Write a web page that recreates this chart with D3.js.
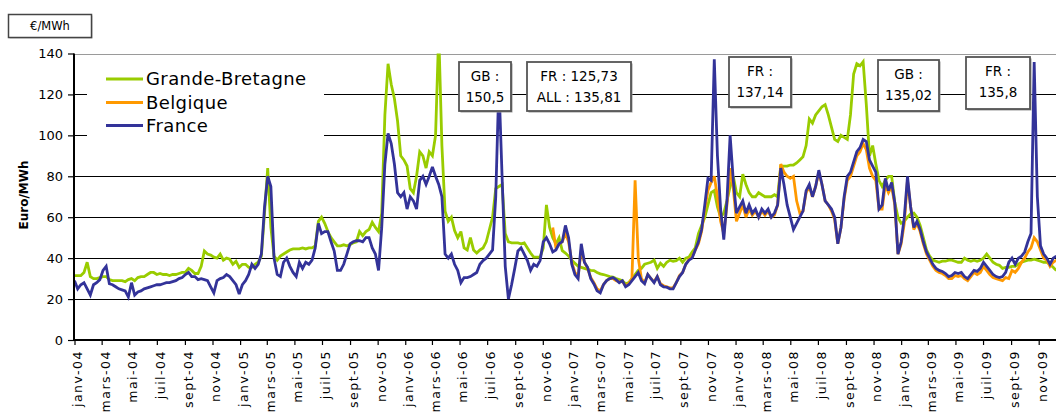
<!DOCTYPE html>
<html><head><meta charset="utf-8">
<script src="https://cdn.jsdelivr.net/npm/d3@7"></script>
<style>
body{margin:0;background:#fff}
svg{display:block}
text{font-family:"DejaVu Sans",Verdana,sans-serif;fill:#000}
</style>
</head><body>
<svg id="c" width="1056" height="419"></svg>
<script>
// ---------- DATA (weekly readings, week 0 = 1 Jan 2004) ----------
const firstWeek = new Date(2004, 0, 1);
const gb = [
31.5,31.5,31.5,33,38,31,30,30,30.5,31,
31,29.5,29,29,29,29,28.5,29.5,30,29,
30.5,31,31,32,33,33,32,32.5,32,32,
31.5,32,32,32.5,33,33,35,34,32.5,32.5,
36,43.5,42,41.5,40.5,40,42,39,40,39.5,
37,38.5,35.5,37,37,35.5,35.5,37,38,41,
62,84,55,41,39,41,42,43,44,44.5,
44.5,44.5,45,44.5,45,45,46,58,60,57,
53,50,48,46,46,46.5,46,46.5,47.5,48,
53,51,53,54,57.5,55,53,62,110,135,
125,118,107,90,88,85,74,72,80,92,
90,84,92,90,100,150.5,95,63,58,60,
53.5,50,53,45,44,50,44,42.5,44,45,
48,54,60,74,75,76,52,48,47.5,47.5,
47.5,47,47.5,45,42.5,40.5,40.5,40.5,45,66,
55,50,47,50,43.7,42.5,41,39,37.5,36,
35.5,35,34.5,34,33.9,33,32.3,32,31.5,31,
30.7,30,29.5,29,27.5,28,30,32,34,35,
37,37.5,38,39,35,37.5,36,38,39,38.5,
38.8,40,38,40,40.5,43,45,52,56,60,
66,72,73,65,60,62,68,75,80,72,
70,81,76,72,70,70,72,71,70,70,
70,71,70,85,85,85,85.5,85.5,86.5,88,
89.5,95,108,106,110,112,114,115,110,104,
98,97,100,99,98,110,130,135,134,136,
115,90,95,86,78,75,78,80,80,67,
60,57,58,60,61.7,62,60,56,50,44,
41,39,38.5,38,38.5,38.5,39,39,38.5,38,
38,40,39,38.5,39,38.5,39,40,42,40,
38,37,36.5,35,35.5,35.5,36,36,37,38,
38.5,39,39,39.5,39,38.5,38,38,37,35.5,34
];
const fr = [
29,25,27,28,25,22,27,28,29.5,34,
36,27.5,27,26,25,24.5,24,21,28,22,
23.5,24,25,25.5,26,26.5,27,27,27.5,28,
28,28.5,29,30,30.5,32,33,31,31,29.5,
30,29.5,29,26,23,29,30,30.5,32,31,
29,27,22.5,27,29,32,37,35,37,42,
65,80,75,40,32,31,38,40,36,33,
31,38,35,38,37,39,45,57,52,53,
53,48,43.5,34,34,37,42,47,48,48.5,
48.5,48,50,50,45,42,34,55,86,101,
96,86,72,70,72,64,70,68,64,78,
80,76,80,84.5,80,76,70,42,40,42,
37,34,28,30.5,30.5,31,32,33,37,38.8,
40,42,44,70,125.73,80,36,20,27,35,
43.5,45,42,38.8,34,37,36,38.8,48,50,
47,43,44,47,48,56,50,37,32,30,
47,38,35.5,30,27.4,24,23,27,29,30,
30.5,29.5,28,29,26,27,29,31,33,29,
27.5,32,30,28,31,27,26,25.8,25,25,
28,31,33,37,39,40,44,48,54,66,
79,78,137.14,90,64,49,68,100,78,62,
65,68,62,66,62,64,60,64,62,64,
60,62,66,84,76,66,60,54,57,60,
63,73,76,70,75,83,76,68,66,64,
60,47,55,70,80,82,87,92,94,98,
97,88,85,82,64,66,79,73,77,67,
42,48,60,80,65,55,58,54,48,43,
40,37,35,34,33.5,32.5,31,31.5,33,32.5,
33,31,30,32,34,33.5,35,38,36,34,
32,31,30.5,31,33,38,40,37,40,41,
43,48,52,135.8,70,46,42,40,37,40,41
];
const beFirstWeekIndex = 151;
const be = [
55,45,47,48,52,48,38,33,31,
44,38,35,30.5,28,25,24,27,29,30,
30,29,28.5,28.5,26.5,27.5,30,78,40,30,
28,32,30,28.5,31,27.5,26.5,26,25.5,25.5,
28,31.5,33,37,39.5,40.5,44,47,53,64,
73,77,80,70,58,52,66,84,74,58,
62,66,60,64,61,63,60,63,61,63,
60,61,66,86,82,80,79,80,68,62,
63,72,75,70,75,82,76,68,66,63,
59,47,55,69,78,80,85,90,92,96,
93,84,80,78,64,64,76,72,75,66,
42,47,57,78,65,54,57,53,47,42,
39,36,34,33,32.5,31.5,30,30,31.5,31,
31.5,30,29,31,33,32,33,36,34,32,
30.5,30,29.5,29,30.5,30,34,33,35,38,
40,43,45,50,48,44,40,39,36,38,39
];
const seriesNames = ["Grande-Bretagne", "Belgique", "France"];
const seriesColors = ["#99cc00", "#ff9900", "#333399"];
const monthAbbr = ["janv", "mars", "mai", "juil", "sept", "nov"];
const tickYears = ["04", "05", "06", "07", "08", "09"];
const yTicks = [0, 20, 40, 60, 80, 100, 120, 140];
const unitLabel = "€/MWh";
const yTitle = "Euro/MWh";
const annTexts = [
  ["GB :", "150,5"],
  ["FR : 125,73", "ALL : 135,81"],
  ["FR :", "137,14"],
  ["GB :", "135,02"],
  ["FR :", "135,8"]
];

// ---------- LAYOUT ----------
const svg = d3.select("#c");
const W = 1056, H = 419;
const plotL = 74, plotR = 1056, plotT = 53.5, plotB = 340;

const x = d3.scaleTime()
  .domain([new Date(2004, 0, 1), new Date(2009, 10, 1)])
  .range([74.5, 1038.7]);
const y = d3.scaleLinear().domain([0, 140]).range([plotB, plotT]);

const weekDate = i => d3.timeDay.offset(firstWeek, 7 * i);
const gbData = gb.map((v, i) => ({d: weekDate(i), v}));
const frData = fr.map((v, i) => ({d: weekDate(i), v}));
const beData = be.map((v, i) => ({d: weekDate(i + beFirstWeekIndex), v}));

svg.append("rect").attr("width", W).attr("height", H).attr("fill", "#fff");

svg.append("defs").append("clipPath").attr("id", "clip")
  .append("rect").attr("x", plotL).attr("y", plotT).attr("width", plotR - plotL + 10).attr("height", plotB - plotT);

// gridlines
const grid = svg.append("g");
yTicks.filter(v => v > 0).forEach(v => {
  grid.append("line")
    .attr("x1", plotL).attr("x2", plotR)
    .attr("y1", Math.round(y(v)) + 0.5).attr("y2", Math.round(y(v)) + 0.5)
    .attr("stroke", v === 140 ? "#9a9a9a" : "#000").attr("stroke-width", v === 140 ? 1.2 : 1);
});

// series
const line = d3.line().x(d => x(d.d)).y(d => y(d.v));
const gLines = svg.append("g").attr("clip-path", "url(#clip)");
[gbData, beData, frData].forEach((data, k) => {
  gLines.append("path").datum(data)
    .attr("d", line).attr("fill", "none")
    .attr("stroke", seriesColors[k]).attr("stroke-width", 2.8)
    .attr("stroke-linejoin", "miter").attr("stroke-miterlimit", 3);
});

// y axis
const yAxis = svg.append("g").attr("transform", `translate(${plotL},0)`)
  .call(d3.axisLeft(y).tickValues(yTicks).tickSize(6).tickPadding(5).tickFormat(d3.format("d")));
yAxis.select(".domain").remove();
yAxis.selectAll(".tick line").attr("stroke", "#000").attr("stroke-width", 1.2);
yAxis.selectAll("text").attr("font-size", 13).attr("font-family", "DejaVu Sans, Verdana, sans-serif");
svg.append("line").attr("x1", plotL).attr("x2", plotL).attr("y1", plotT).attr("y2", plotB + 1)
  .attr("stroke", "#000").attr("stroke-width", 2);

// x axis
const tickDates = d3.timeMonth.every(2).range(new Date(2004, 0, 1), new Date(2009, 11, 1));
const xAxis = svg.append("g").attr("transform", `translate(0,${plotB})`)
  .call(d3.axisBottom(x).tickValues(tickDates).tickSize(5)
    .tickFormat(d => monthAbbr[d.getMonth() / 2] + "-" + tickYears[d.getFullYear() - 2004]));
xAxis.select(".domain").remove();
xAxis.selectAll(".tick line").attr("stroke", "#000").attr("stroke-width", 1.2);
xAxis.selectAll("text")
  .attr("transform", "rotate(-90)")
  .attr("text-anchor", "end")
  .attr("x", -10).attr("y", 3).attr("dy", "0.35em")
  .attr("font-size", 12.5).attr("letter-spacing", "1.5px")
  .attr("font-family", "DejaVu Sans, Verdana, sans-serif");
svg.append("line").attr("x1", plotL).attr("x2", plotR).attr("y1", plotB).attr("y2", plotB)
  .attr("stroke", "#000").attr("stroke-width", 2);

// y title
svg.append("text").attr("transform", "translate(28,195) rotate(-90)")
  .attr("text-anchor", "middle").attr("font-size", 12).attr("font-weight", "bold").text(yTitle);

// unit box
svg.append("rect").attr("x", 9.5).attr("y", 15.5).attr("width", 83).attr("height", 23).attr("fill", "#bbb");
svg.append("rect").attr("x", 8.5).attr("y", 14.5).attr("width", 83).attr("height", 23)
  .attr("fill", "#fff").attr("stroke", "#444").attr("stroke-width", 1.5);
svg.append("text").attr("x", 50).attr("y", 26).attr("dy", "0.35em").attr("text-anchor", "middle")
  .attr("font-size", 11.5).text(unitLabel);

// legend
const leg = svg.append("g");
leg.append("rect").attr("x", 87).attr("y", 57).attr("width", 237).attr("height", 82).attr("fill", "#fff");
const legY = [79, 102.5, 125.5];
seriesNames.forEach((n, k) => {
  leg.append("line").attr("x1", 106).attr("x2", 143).attr("y1", legY[k]).attr("y2", legY[k])
    .attr("stroke", seriesColors[k]).attr("stroke-width", 3);
  leg.append("text").attr("x", 146).attr("y", legY[k]).attr("dy", "0.36em")
    .attr("font-size", 18).attr("letter-spacing", "0.4px").text(n);
});

// annotation boxes
const annBox = [[459, 62, 52, 49], [527, 62, 104, 49], [729, 57, 62, 50], [878, 60, 61, 51], [966, 57, 64, 52]];
annTexts.forEach((lines, k) => {
  const [bx, by, bw, bh] = annBox[k];
  const g = svg.append("g");
  g.append("rect").attr("x", bx + 1.5).attr("y", by + 1.5).attr("width", bw).attr("height", bh).attr("fill", "#999");
  g.append("rect").attr("x", bx).attr("y", by).attr("width", bw).attr("height", bh)
    .attr("fill", "#fff").attr("stroke", "#555").attr("stroke-width", 1.8);
  lines.forEach((t, j) => {
    g.append("text").attr("x", bx + bw / 2).attr("y", by + 14 + j * 21).attr("dy", "0.35em")
      .attr("text-anchor", "middle").attr("font-size", 13.5).text(t);
  });
});
</script>
</body></html>
